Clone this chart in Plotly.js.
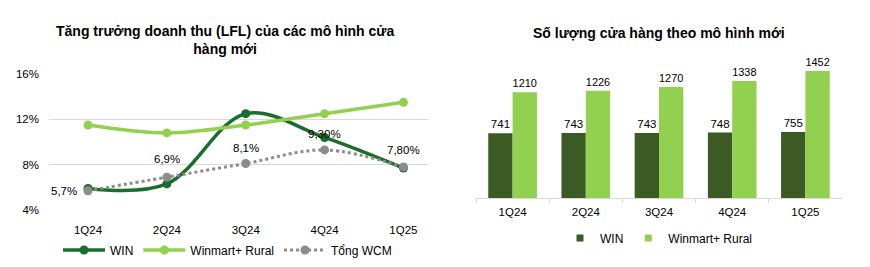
<!DOCTYPE html>
<html>
<head>
<meta charset="utf-8">
<script src="https://cdn.plot.ly/plotly-3.0.1.min.js"></script>
<style>html,body{margin:0;padding:0;background:#fff;}#chart{width:870px;height:267px;}</style>
</head>
<body>
<div id="chart"></div>
<script>
const quarters = ["1Q24", "2Q24", "3Q24", "4Q24", "1Q25"];
const lflWin = [5.9, 6.3, 12.5, 10.4, 7.7];
const lflRural = [11.5, 10.8, 11.5, 12.5, 13.5];
const lflTotal = [5.7, 6.9, 8.1, 9.3, 7.8];
const lflTotalLabels = ["5,7%", "6,9%", "8,1%", "9,30%", "7,80%"];
const yTickVals = [4, 8, 12, 16];
const yTickText = ["4%", "8%", "12%", "16%"];
const storesWin = [741, 743, 743, 748, 755];
const storesRural = [1210, 1226, 1270, 1338, 1452];

const W = 870, H = 267;
const FONT = "Liberation Sans, Arial, sans-serif";
const px = v => v / W;
const py = v => (H - v) / H;
const DARK_LINE = "#1a6e2c", LIGHT = "#92d050", GREY = "#8c8c8c", DARK_BAR = "#3b5a24";

const traces = [
  {x: quarters, y: lflWin, name: "WIN", type: "scatter", mode: "lines+markers",
   line: {color: DARK_LINE, width: 3.5, shape: "spline", smoothing: 1},
   marker: {color: DARK_LINE, size: 9}, xaxis: "x", yaxis: "y", legend: "legend"},
  {x: quarters, y: lflRural, name: "Winmart+ Rural", type: "scatter", mode: "lines+markers",
   line: {color: LIGHT, width: 3.5, shape: "spline", smoothing: 1},
   marker: {color: LIGHT, size: 9}, xaxis: "x", yaxis: "y", legend: "legend"},
  {x: quarters, y: lflTotal, name: "Tổng WCM", type: "scatter", mode: "lines+markers",
   line: {color: GREY, width: 3, dash: "dot", shape: "spline", smoothing: 1},
   marker: {color: GREY, size: 9}, xaxis: "x", yaxis: "y", legend: "legend"},
  {x: quarters, y: storesWin, name: "WIN", type: "bar", showlegend: false,
   marker: {color: DARK_BAR}, text: storesWin.map(String), textposition: "outside",
   textfont: {family: FONT, size: 11.5, color: "#000"}, cliponaxis: false,
   xaxis: "x2", yaxis: "y2"},
  {x: quarters, y: storesRural, name: "Winmart+ Rural", type: "bar", showlegend: false,
   marker: {color: LIGHT}, text: storesRural.map(String), textposition: "outside",
   textfont: {family: FONT, size: 11.5, color: "#000"}, cliponaxis: false,
   xaxis: "x2", yaxis: "y2"},
  // legend keys for the bar chart (small squares, as in the reference)
  {x: [null], y: [null], name: "WIN", type: "scatter", mode: "markers",
   marker: {color: DARK_BAR, symbol: "square", size: 7}, xaxis: "x2", yaxis: "y2", legend: "legend2", hoverinfo: "skip"},
  {x: [null], y: [null], name: "Winmart+ Rural", type: "scatter", mode: "markers",
   marker: {color: LIGHT, symbol: "square", size: 7}, xaxis: "x2", yaxis: "y2", legend: "legend2", hoverinfo: "skip"}
];

const shifts = [
  {xanchor: "right", yanchor: "middle", xshift: -9, yshift: 0},
  {xanchor: "center", yanchor: "middle", xshift: 0, yshift: 18},
  {xanchor: "center", yanchor: "middle", xshift: 0, yshift: 16},
  {xanchor: "center", yanchor: "middle", xshift: 0, yshift: 16},
  {xanchor: "center", yanchor: "middle", xshift: 0, yshift: 17}
];
const annotations = quarters.map((q, i) => Object.assign({
  x: q, y: lflTotal[i], xref: "x", yref: "y", text: lflTotalLabels[i], showarrow: false,
  font: {family: FONT, size: 11.5, color: "#000"}
}, shifts[i]));

const layout = {
  width: W, height: H,
  margin: {l: 0, r: 0, t: 0, b: 0},
  paper_bgcolor: "#fff", plot_bgcolor: "#fff",
  font: {family: FONT, size: 11.5, color: "#000"},
  barmode: "group", bargap: 0.335, bargroupgap: 0,
  xaxis: {domain: [px(49), px(428)], anchor: "y", showgrid: false, zeroline: false,
    showline: false, ticks: "", tickfont: {size: 11.5}, ticklabelstandoff: 11, fixedrange: true},
  yaxis: {domain: [py(210), py(74)], anchor: "x", range: [4, 16], tickvals: yTickVals,
    ticktext: yTickText, showgrid: true, gridcolor: "#d9d9d9", gridwidth: 1, zeroline: false,
    showline: false, ticks: "", tickfont: {size: 11.5}, ticklabelstandoff: 9},
  xaxis2: {domain: [px(476), px(842)], anchor: "y2", showgrid: false, zeroline: false,
    showline: true, linecolor: "#d9d9d9", linewidth: 1, ticks: "outside", tickson: "boundaries",
    ticklen: 4, tickcolor: "#d9d9d9", tickfont: {size: 11.5}, ticklabelstandoff: 3},
  yaxis2: {domain: [py(198), py(58)], anchor: "x2", range: [0, 1600], visible: false,
    showgrid: false, zeroline: false},
  legend: {orientation: "h", x: px(58), y: py(250), xanchor: "left", yanchor: "middle",
    itemwidth: 42, font: {family: FONT, size: 12, color: "#000"}, bgcolor: "rgba(0,0,0,0)"},
  legend2: {orientation: "h", x: px(560), y: py(238), xanchor: "left", yanchor: "middle",
    font: {family: FONT, size: 12, color: "#000"}, bgcolor: "rgba(0,0,0,0)", itemwidth: 30},
  annotations: annotations.concat([
    {text: "<b>Tăng trưởng doanh thu (LFL) của các mô hình cửa<br>hàng mới</b>", xref: "paper", yref: "paper",
     x: px(225), y: py(40), xanchor: "center", yanchor: "middle", showarrow: false,
     font: {family: FONT, size: 14, color: "#000"}},
    {text: "<b>Số lượng cửa hàng theo mô hình mới</b>", xref: "paper", yref: "paper",
     x: px(659), y: py(33), xanchor: "center", yanchor: "middle", showarrow: false,
     font: {family: FONT, size: 14, color: "#000"}}
  ]),
  showlegend: true
};

Plotly.newPlot("chart", traces, layout, {displayModeBar: false, staticPlot: true});
</script>
</body>
</html>
